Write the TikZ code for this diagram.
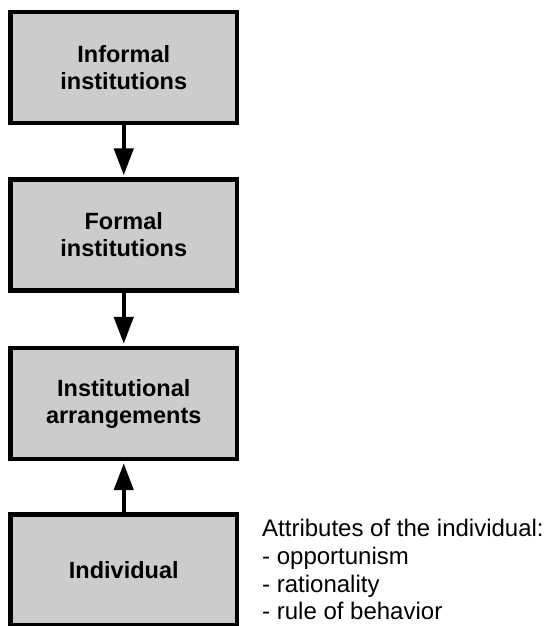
\documentclass[tikz,border=0pt]{standalone}
\usepackage{fontspec}
\setmainfont{Liberation Sans}
\usetikzlibrary{arrows.meta}
\definecolor{boxgray}{HTML}{CCCCCC}
\begin{document}
\begin{tikzpicture}[x=1pt,y=-1pt,
  box/.style={draw=black, fill=boxgray, line width=4.3pt, minimum width=226.5pt, minimum height=111pt,
    inner sep=0pt, align=center, font=\fontsize{23.5}{27}\selectfont\bfseries},
  conn/.style={line width=4.5pt, -{Triangle[width=19pt,length=27pt]}, shorten >=2pt},
  attr/.style={anchor=base west, inner sep=0pt, font=\fontsize{24}{27.7}\selectfont}]
\useasboundingbox (0,0) rectangle (544,626);
\node[box] (b1) at (123.75,67.5) {Informal\\institutions};
\node[box] (b2) at (123.75,235) {Formal\\institutions};
\node[box] (b3) at (123.75,403.5) {Institutional\\arrangements};
\node[box] (b4) at (123.75,570) {Individual};
\draw[conn] (b1.south) -- (b2.north);
\draw[conn] (b2.south) -- (b3.north);
\draw[conn] (b4.north) -- (b3.south);
\node[attr] (t1) at (262,536) {Attributes of the individual:};
\node[attr] (t2) at (262,564) {- opportunism};
\node[attr] (t3) at (262,592) {- rationality};
\node[attr] (t4) at (262,619) {- rule of behavior};
\end{tikzpicture}
\end{document}
